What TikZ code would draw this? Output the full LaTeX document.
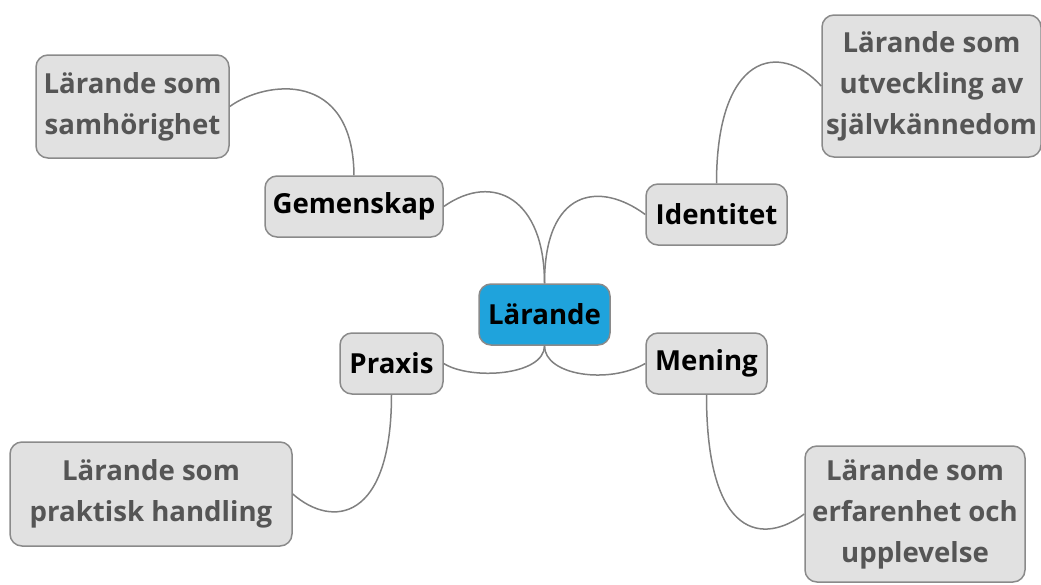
\documentclass[tikz,border=0pt]{standalone}
\usepackage{fontspec}
\setmainfont{Open Sans}
\definecolor{hubblue}{HTML}{1FA3DC}
\definecolor{boxfill}{HTML}{E1E1E1}
\definecolor{boxline}{HTML}{8A8A8A}
\definecolor{linkgray}{HTML}{808080}
\definecolor{leaftext}{HTML}{555555}
\begin{document}
\begin{tikzpicture}[x=1pt,y=-1pt,
    box/.style={draw=boxline, line width=1.5pt, rounded corners=12pt, align=center,
        inner sep=0pt, font=\fontsize{27.6}{41}\selectfont\bfseries},
    hub/.style={box, fill=hubblue, text=black},
    branch/.style={box, fill=boxfill, text=black, minimum height=61pt},
    leaf/.style={box, fill=boxfill, text=leaftext},
    link/.style={draw=linkgray, line width=1.5pt}]
    \useasboundingbox (0,0) rectangle (1041,584);
    % Mitten
    \node[hub, minimum width=131pt, minimum height=61pt] (lar) at (544.5,314.5) {Lärande};
    % Huvudgrenar
    \node[branch, minimum width=178pt] (gem) at (354,206.5) {Gemenskap};
    \node[branch, minimum width=141pt] (ide) at (716.5,214.5) {Identitet};
    \node[branch, minimum width=103pt] (pra) at (391.5,363.5) {Praxis};
    \node[branch, minimum width=121pt] (men) at (706.5,363.5) {Mening};
    % Löv
    \node[leaf, minimum width=193pt, minimum height=103pt] (sam) at (132.5,106.5) {Lärande som\\samhörighet};
    \node[leaf, minimum width=219pt, minimum height=142pt] (sja) at (931.5,86) {Lärande som\\utveckling av\\självkännedom};
    \node[leaf, minimum width=282pt, minimum height=104pt] (pkt) at (151,494) {Lärande som\\praktisk handling};
    \node[leaf, minimum width=220pt, minimum height=136pt] (erf) at (915,514) {Lärande som\\erfarenhet och\\upplevelse};
    % Kopplingar
    \draw[link] (gem.east) .. controls +(50,-35) and +(0,-84) .. (lar.north);
    \draw[link] (lar.north) .. controls +(0,-94) and +(-46,-34) .. (ide.west);
    \draw[link] (pra.east) .. controls +(27,17) and +(0,30) .. (lar.south);
    \draw[link] (lar.south) .. controls +(0,30) and +(-36,21) .. (men.west);
    \draw[link] (gem.north) .. controls +(-1,-106) and +(36,-26) .. (sam.east);
    \draw[link] (ide.north) .. controls +(0,-129) and +(-42,-46) .. (sja.west);
    \draw[link] (pra.south) .. controls +(0,126) and +(40,35) .. (pkt.east);
    \draw[link] (men.south) .. controls +(0,146) and +(-40,30) .. (erf.west);
\end{tikzpicture}
\end{document}
